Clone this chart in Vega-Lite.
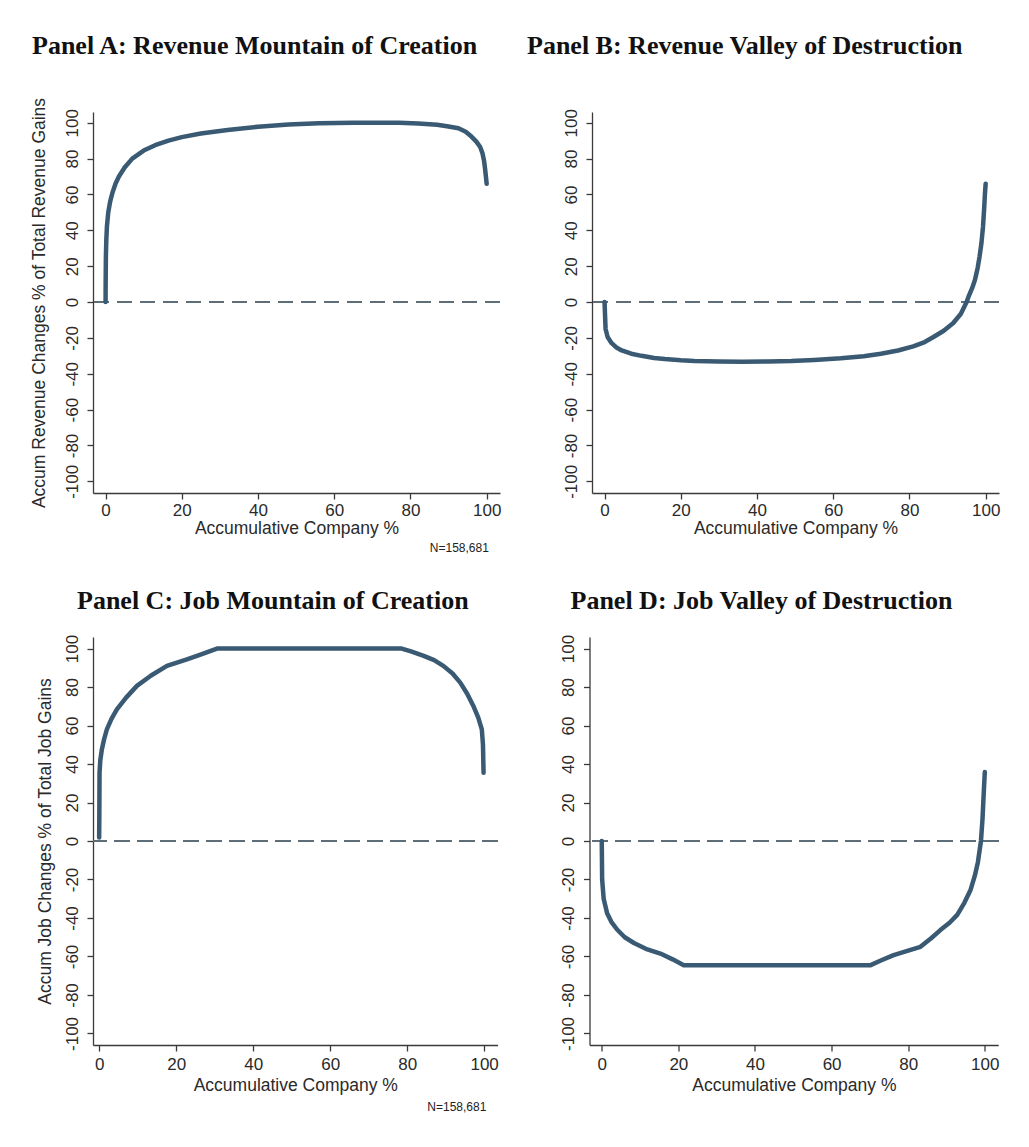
{
  "$schema": "https://vega.github.io/schema/vega-lite/v6.json",
  "background": "white",
  "padding": {"left": 30, "top": 32, "right": 5, "bottom": 5},
  "datasets": {
    "A": [
      {"x": 0, "y": 0}, {"x": 0.02, "y": 10}, {"x": 0.08, "y": 25}, {"x": 0.2, "y": 35}, {"x": 0.35, "y": 42},
      {"x": 0.7, "y": 50}, {"x": 1.2, "y": 56}, {"x": 1.8, "y": 61}, {"x": 2.6, "y": 66}, {"x": 3.5, "y": 70},
      {"x": 5, "y": 75}, {"x": 7, "y": 80}, {"x": 10, "y": 84.5}, {"x": 13, "y": 87.5}, {"x": 16.5, "y": 90},
      {"x": 20, "y": 92}, {"x": 25, "y": 94}, {"x": 32, "y": 96}, {"x": 40, "y": 97.8}, {"x": 48, "y": 99},
      {"x": 56, "y": 99.7}, {"x": 65, "y": 100}, {"x": 77, "y": 100}, {"x": 82, "y": 99.6}, {"x": 87, "y": 98.9},
      {"x": 90, "y": 97.9}, {"x": 92.6, "y": 96.9}, {"x": 94.5, "y": 95}, {"x": 96, "y": 92.3}, {"x": 97.3, "y": 89.5},
      {"x": 98.3, "y": 86.5}, {"x": 98.9, "y": 83}, {"x": 99.3, "y": 79}, {"x": 99.6, "y": 74}, {"x": 99.8, "y": 70},
      {"x": 100, "y": 66}
    ],
    "B": [
      {"x": 0, "y": 0}, {"x": 0.1, "y": -6}, {"x": 0.26, "y": -15}, {"x": 0.8, "y": -19.5}, {"x": 1.8, "y": -22.8},
      {"x": 3, "y": -25.2}, {"x": 4.5, "y": -27}, {"x": 7, "y": -28.8}, {"x": 9.7, "y": -30}, {"x": 13, "y": -31.2},
      {"x": 15.8, "y": -31.8}, {"x": 20, "y": -32.5}, {"x": 23.6, "y": -32.9}, {"x": 30, "y": -33.2}, {"x": 36, "y": -33.3},
      {"x": 43, "y": -33.2}, {"x": 49, "y": -32.9}, {"x": 55, "y": -32.3}, {"x": 62, "y": -31.4}, {"x": 68, "y": -30.2},
      {"x": 72.5, "y": -28.8}, {"x": 77, "y": -27}, {"x": 81, "y": -24.7}, {"x": 84, "y": -22.3}, {"x": 86.3, "y": -19.5},
      {"x": 89, "y": -16}, {"x": 91.5, "y": -11.7}, {"x": 93.5, "y": -6.5}, {"x": 95, "y": 0}, {"x": 95.5, "y": 3},
      {"x": 96.5, "y": 8}, {"x": 97.2, "y": 12.4}, {"x": 97.9, "y": 19}, {"x": 98.4, "y": 25.4}, {"x": 98.9, "y": 33},
      {"x": 99.3, "y": 42}, {"x": 99.6, "y": 52}, {"x": 99.8, "y": 60}, {"x": 100, "y": 66}
    ],
    "C": [
      {"x": 0, "y": 1.8}, {"x": 0.05, "y": 15}, {"x": 0.1, "y": 35.5}, {"x": 0.3, "y": 42}, {"x": 0.7, "y": 47.6},
      {"x": 1.3, "y": 53}, {"x": 2, "y": 58}, {"x": 3.2, "y": 63.5}, {"x": 4.6, "y": 68.4}, {"x": 7, "y": 74.5},
      {"x": 9.8, "y": 80.6}, {"x": 13.5, "y": 86}, {"x": 17.6, "y": 91}, {"x": 22.8, "y": 94.4}, {"x": 26.5, "y": 97},
      {"x": 30.6, "y": 100}, {"x": 78.6, "y": 100}, {"x": 81, "y": 98.5}, {"x": 84.3, "y": 96.2}, {"x": 87, "y": 94},
      {"x": 89.4, "y": 91}, {"x": 91.8, "y": 87}, {"x": 93.8, "y": 82.3}, {"x": 95.6, "y": 76.5}, {"x": 97.2, "y": 70.2},
      {"x": 98.5, "y": 64}, {"x": 99.4, "y": 58}, {"x": 99.7, "y": 50}, {"x": 99.85, "y": 35.5}
    ],
    "D": [
      {"x": 0, "y": 0}, {"x": 0.05, "y": -10}, {"x": 0.1, "y": -20}, {"x": 0.5, "y": -30}, {"x": 1.4, "y": -37.5},
      {"x": 2.5, "y": -42}, {"x": 4, "y": -46}, {"x": 6, "y": -50}, {"x": 8.4, "y": -53}, {"x": 11.5, "y": -56},
      {"x": 15.3, "y": -58.5}, {"x": 18.5, "y": -61.5}, {"x": 21.4, "y": -64.5}, {"x": 70.2, "y": -64.5}, {"x": 73, "y": -62},
      {"x": 76.2, "y": -59.3}, {"x": 80, "y": -57}, {"x": 83.2, "y": -55}, {"x": 86, "y": -50.5}, {"x": 88.4, "y": -46.3},
      {"x": 90.8, "y": -42.5}, {"x": 92.8, "y": -38.4}, {"x": 94.7, "y": -32}, {"x": 96.3, "y": -25.3}, {"x": 97.4, "y": -18},
      {"x": 98.2, "y": -11}, {"x": 99, "y": 0}, {"x": 99.4, "y": 11.4}, {"x": 99.7, "y": 24}, {"x": 100, "y": 35.8}
    ]
  },
  "config": {
    "view": {"stroke": null},
    "font": "Liberation Sans",
    "axis": {
      "domainColor": "#3a3a3a", "domainWidth": 1.3, "tickColor": "#3a3a3a", "tickWidth": 1.3, "tickSize": 6,
      "labelFont": "Liberation Sans", "labelFontSize": 17, "labelColor": "#2a2a2a", "labelOverlap": false,
      "titleFont": "Liberation Sans", "titleFontSize": 17.5, "titleFontWeight": "normal", "titleColor": "#2a2a2a",
      "gridColor": "#e6edf1", "gridWidth": 1.2
    },
    "title": {"font": "Liberation Serif", "fontSize": 26, "fontWeight": "bold", "color": "#111111", "anchor": "start", "frame": "group"}
  },
  "vconcat": [
    {
      "hconcat": [
        {
          "vconcat": [
            {
              "title": {"text": "Panel A: Revenue Mountain of Creation", "dx": -61, "offset": 38},
              "width": 407, "height": 381, "data": {"name": "A"},
              "layer": [
                {"mark": {"type": "rule", "color": "#5f6f7a", "strokeWidth": 1.5, "strokeDash": [15, 8]}, "encoding": {"y": {"datum": 0, "type": "quantitative"}}},
                {"mark": {"type": "line", "color": "#3a5a74", "strokeWidth": 4.5, "strokeCap": "round", "strokeJoin": "round"},
                 "encoding": {
                   "x": {"field": "x", "type": "quantitative", "scale": {"domain": [-3.3, 103.5], "nice": false, "zero": false},
                         "axis": {"values": [0, 20, 40, 60, 80, 100], "tickCount": 12, "title": "Accumulative Company %", "grid": false, "labelPadding": 3, "titlePadding": 1}},
                   "y": {"field": "y", "type": "quantitative", "scale": {"domain": [-106.5, 106], "nice": false},
                         "axis": {"values": [-100, -80, -60, -40, -20, 0, 20, 40, 60, 80, 100], "tickCount": 12, "title": "Accum Revenue Changes % of Total Revenue Gains",
                                  "labelExpr": "'' + datum.value", "labelOverlap": false,
                                  "labelAngle": -90, "labelAlign": "center", "labelBaseline": "bottom", "labelPadding": 6, "titlePadding": 15}}
                 }}
              ]
            }
          ],
          "title": {"text": "N=158,681", "orient": "bottom", "anchor": "end", "frame": "bounds", "font": "Liberation Sans", "fontSize": 12, "fontWeight": "normal", "color": "#222222", "offset": 6, "dx": -12}
        },
        {
          "title": {"text": "Panel B: Revenue Valley of Destruction", "dx": -65, "offset": 50},
          "width": 407, "height": 381, "data": {"name": "B"},
          "layer": [
            {"mark": {"type": "rule", "color": "#5f6f7a", "strokeWidth": 1.5, "strokeDash": [15, 8]}, "encoding": {"y": {"datum": 0, "type": "quantitative"}}},
            {"mark": {"type": "line", "color": "#3a5a74", "strokeWidth": 4.5, "strokeCap": "round", "strokeJoin": "round"},
             "encoding": {
               "x": {"field": "x", "type": "quantitative", "scale": {"domain": [-3.3, 103.5], "nice": false, "zero": false},
                     "axis": {"values": [0, 20, 40, 60, 80, 100], "tickCount": 12, "title": "Accumulative Company %", "grid": false, "labelPadding": 3, "titlePadding": 1}},
               "y": {"field": "y", "type": "quantitative", "scale": {"domain": [-106.5, 106], "nice": false},
                     "axis": {"values": [-100, -80, -60, -40, -20, 0, 20, 40, 60, 80, 100], "tickCount": 12, "title": null,
                              "labelExpr": "'' + datum.value", "labelOverlap": false,
                              "labelAngle": -90, "labelAlign": "center", "labelBaseline": "bottom", "labelPadding": 6}}
             }}
          ]
        }
      ],
      "spacing": 26
    },
    {
      "hconcat": [
        {
          "vconcat": [
            {
              "title": {"text": "Panel C: Job Mountain of Creation", "dx": -16, "offset": 20.5},
              "width": 404.6, "height": 408, "data": {"name": "C"},
              "layer": [
                {"mark": {"type": "rule", "color": "#5f6f7a", "strokeWidth": 1.5, "strokeDash": [15, 8]}, "encoding": {"y": {"datum": 0, "type": "quantitative"}}},
                {"mark": {"type": "line", "color": "#3a5a74", "strokeWidth": 4.5, "strokeCap": "round", "strokeJoin": "round"},
                 "encoding": {
                   "x": {"field": "x", "type": "quantitative", "scale": {"domain": [-1.6, 103.5], "nice": false, "zero": false},
                         "axis": {"values": [0, 20, 40, 60, 80, 100], "tickCount": 12, "title": "Accumulative Company %", "grid": false, "labelPadding": 5, "titlePadding": 4}},
                   "y": {"field": "y", "type": "quantitative", "scale": {"domain": [-106, 106], "nice": false},
                         "axis": {"values": [-100, -80, -60, -40, -20, 0, 20, 40, 60, 80, 100], "tickCount": 12, "title": "Accum Job Changes % of Total Job Gains",
                                  "labelExpr": "'' + datum.value", "labelOverlap": false,
                                  "labelAngle": -90, "labelAlign": "center", "labelBaseline": "bottom", "labelPadding": 6, "titlePadding": 8.5}}
                 }}
              ]
            }
          ],
          "title": {"text": "N=158,681", "orient": "bottom", "anchor": "end", "frame": "bounds", "font": "Liberation Sans", "fontSize": 12, "fontWeight": "normal", "color": "#222222", "offset": 8, "dx": -12}
        },
        {
          "title": {"text": "Panel D: Job Valley of Destruction", "dx": -19, "offset": 20.5},
          "width": 408.7, "height": 408, "data": {"name": "D"},
          "layer": [
            {"mark": {"type": "rule", "color": "#5f6f7a", "strokeWidth": 1.5, "strokeDash": [15, 8]}, "encoding": {"y": {"datum": 0, "type": "quantitative"}}},
            {"mark": {"type": "line", "color": "#3a5a74", "strokeWidth": 4.5, "strokeCap": "round", "strokeJoin": "round"},
             "encoding": {
               "x": {"field": "x", "type": "quantitative", "scale": {"domain": [-3.2, 103.5], "nice": false, "zero": false},
                     "axis": {"values": [0, 20, 40, 60, 80, 100], "tickCount": 12, "title": "Accumulative Company %", "grid": false, "labelPadding": 5, "titlePadding": 4}},
               "y": {"field": "y", "type": "quantitative", "scale": {"domain": [-106, 106], "nice": false},
                     "axis": {"values": [-100, -80, -60, -40, -20, 0, 20, 40, 60, 80, 100], "tickCount": 12, "title": null,
                              "labelExpr": "'' + datum.value", "labelOverlap": false,
                              "labelAngle": -90, "labelAlign": "center", "labelBaseline": "bottom", "labelPadding": 6}}
             }}
          ]
        }
      ],
      "spacing": 59.5
    }
  ],
  "spacing": 33
}
